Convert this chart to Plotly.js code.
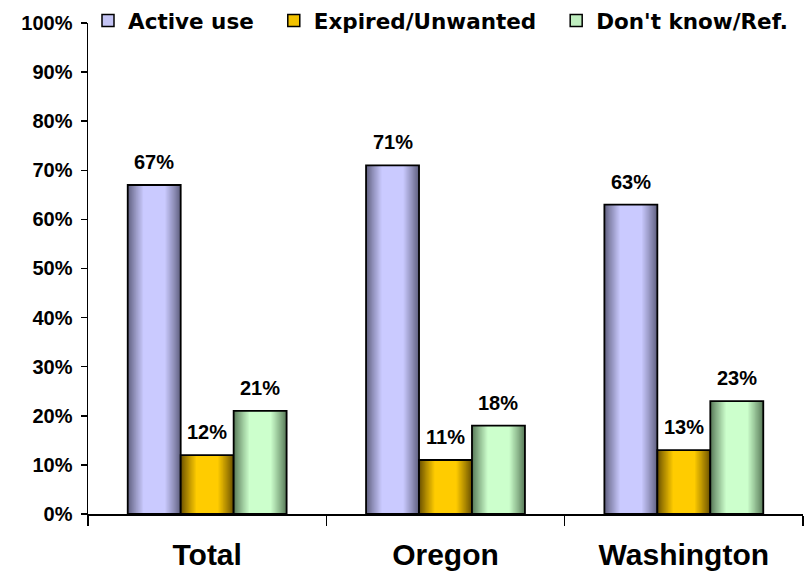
<!DOCTYPE html>
<html>
<head>
<meta charset="utf-8">
<script src="https://cdn.plot.ly/plotly-3.0.1.min.js"></script>
<style>html,body{margin:0;padding:0;background:#fff;}</style>
</head>
<body>
<div id="chart" style="width:805px;height:571px;"></div>
<script>
// ---- data ----
const categories = ["Total", "Oregon", "Washington"];
const seriesNames = ["Active use", "Expired/Unwanted", "Don't know/Ref."];
const activeUse = [67, 71, 63];
const expiredUnwanted = [12, 11, 13];
const dontKnowRef = [21, 18, 23];
const yTickVals = [0, 10, 20, 30, 40, 50, 60, 70, 80, 90, 100];
const yTickText = yTickVals.map(v => v + "%");

// ---- styles ----
const seriesValues = [activeUse, expiredUnwanted, dontKnowRef];
const legendPad = ["\u00a0\u00a0", "\u00a0\u00a0", ""];
const edgeColors = [[96, 96, 128], [108, 82, 0], [88, 122, 88]];
const centerColors = [[202, 202, 255], [255, 204, 0], [204, 255, 204]];
const legendColors = ["#c4c4f4", "#f2c200", "#bfeebf"];
const W = 2 / 9; // bar width in category units
const H = 571, PW = 805;
const M = {l: 88, r: 2, t: 0, b: 57};
const plotTop = 22;
const areaH = H - M.t - M.b;
const plotW = PW - M.l - M.r;
const pxPerCat = plotW / categories.length;

function mix(a, b, t) {
  return "rgb(" + a.map((v, k) => Math.round(v + (b[k] - v) * t)).join(",") + ")";
}

const traces = [];
// legend-only entries
seriesNames.forEach((name, i) => {
  traces.push({
    type: "bar", name: name + legendPad[i], x: categories, y: categories.map(() => null),
    marker: {color: legendColors[i], line: {color: "#000", width: 1.5}},
    showlegend: true, hoverinfo: "skip"
  });
});
// gradient layers
const layers = 14;
const plateau = 0.42;
seriesValues.forEach((vals, i) => {
  const base = (i - 1.5) * W;
  for (let k = 0; k < layers; k++) {
    const f = 1 - k * ((1 - plateau) / (layers - 1));
    const t = Math.min(1, (1 - f) / (1 - plateau));
    traces.push({
      type: "bar", x: categories, y: vals,
      width: W * f, offset: base + W * (1 - f) / 2,
      marker: {color: mix(edgeColors[i], centerColors[i], Math.pow(t, 0.9)), line: {width: 0}},
      showlegend: false, hoverinfo: "skip"
    });
  }
  // outline
  traces.push({
    type: "bar", x: categories, y: vals, width: W, offset: base,
    marker: {color: "rgba(0,0,0,0)", line: {color: "#000", width: 1.8}},
    showlegend: false, hoverinfo: "skip"
  });
});

// value labels
const annotations = [];
seriesValues.forEach((vals, i) => {
  vals.forEach((v, j) => {
    annotations.push({
      x: categories[j], y: v, xref: "x", yref: "y",
      xshift: (i - 1) * W * pxPerCat, yshift: 10,
      yanchor: "bottom", xanchor: "center", showarrow: false,
      text: v + "%",
      font: {family: "Liberation Sans, Arial, sans-serif", size: 20, color: "#000", weight: "bold"}
    });
  });
});

const layout = {
  width: PW, height: H,
  margin: M,
  paper_bgcolor: "#fff", plot_bgcolor: "#fff",
  barmode: "overlay",
  showlegend: true,
  hovermode: false,
  legend: {
    orientation: "h", x: 0, xanchor: "left", y: 1 - 20 / areaH, yanchor: "middle",
    bgcolor: "rgba(0,0,0,0)",
    font: {family: "DejaVu Sans, sans-serif", size: 21.5, color: "#000", weight: "bold"},
    itemwidth: 30, traceorder: "normal"
  },
  xaxis: {
    type: "category", range: [-0.5, 2.5],
    showline: true, linecolor: "#000", linewidth: 1.5,
    ticks: "outside", tickson: "boundaries", ticklen: 10, tickwidth: 1.5, tickcolor: "#000",
    showgrid: false, zeroline: false, ticklabelstandoff: 13,
    tickfont: {family: "Liberation Sans, Arial, sans-serif", size: 30, color: "#000", weight: "bold"}
  },
  yaxis: {
    domain: [0, 1 - plotTop / areaH],
    range: [0, 100], tickmode: "array", tickvals: yTickVals, ticktext: yTickText,
    showline: true, linecolor: "#000", linewidth: 1.5,
    ticks: "outside", ticklen: 6, tickwidth: 1.5, tickcolor: "#000",
    showgrid: false, zeroline: false, ticklabelstandoff: 4,
    tickfont: {family: "Liberation Sans, Arial, sans-serif", size: 20, color: "#000", weight: "bold"}
  },
  annotations: annotations
};

Plotly.newPlot("chart", traces, layout, {staticPlot: true, displayModeBar: false});
</script>
</body>
</html>
